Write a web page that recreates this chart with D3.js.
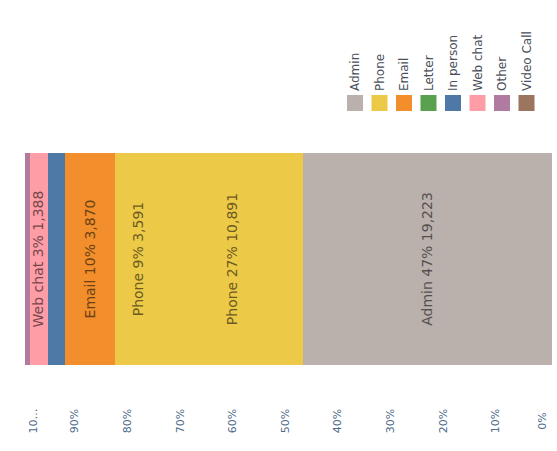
<!DOCTYPE html>
<html>
<head>
<meta charset="utf-8">
<script src="https://cdn.jsdelivr.net/npm/d3@7"></script>
<style>
  html, body { margin: 0; padding: 0; background: #fff; }
  svg { display: block; font-family: "DejaVu Sans", sans-serif; }
</style>
</head>
<body>
<svg id="chart" width="557" height="451"></svg>
<script>
// Contact volumes by channel, stacked as shares of the total
const segments   = ["Admin", "Phone", "Phone", "Email", "In person", "Web chat", "Other"];
const channels   = ["Admin", "Phone", "Phone", "Email", "In person", "Web chat", "Other"];
const values     = [19223, 10891, 3591, 3870, 1366, 1388, 321];
const labelled   = [true, true, true, true, false, true, false];

// Legend entries and their colours
const legendNames  = ["Admin", "Phone", "Email", "Letter", "In person", "Web chat", "Other", "Video Call"];
const legendColors = ["#bab0ac", "#edc948", "#f28e2b", "#59a14f", "#4e79a7", "#ff9da7", "#b07aa1", "#9c755f"];

// Share axis ticks
const tickValues = [0, 0.1, 0.2, 0.3, 0.4, 0.5, 0.6, 0.7, 0.8, 0.9, 1];
const tickLabels = ["0%", "10%", "20%", "30%", "40%", "50%", "60%", "70%", "80%", "90%", "10…"];

const svg = d3.select("#chart");
const total = d3.sum(values);

const color = d3.scaleOrdinal().domain(legendNames).range(legendColors);

// Shares run from 0% on the right to 100% on the left
const x = d3.scaleLinear().domain([0, 1]).range([551, 25]);
const barTop = 153, barBottom = 365;

// Cumulative stacking of the segments
const rows = segments.map((s, i) => ({ name: s, channel: channels[i], value: values[i], label: labelled[i] }));
let acc = 0;
rows.forEach(r => { r.s0 = acc / total; acc += r.value; r.s1 = acc / total; });

const bar = svg.append("g");
bar.selectAll("rect")
  .data(rows)
  .join("rect")
  .attr("shape-rendering", "crispEdges")
  .attr("x", d => x(d.s1))
  .attr("width", d => x(d.s0) - x(d.s1) + 0.5)
  .attr("y", barTop)
  .attr("height", barBottom - barTop)
  .attr("fill", d => color(d.channel));

const fmt = d3.format(",");
const midY = (barTop + barBottom) / 2;
bar.selectAll("text")
  .data(rows.filter(d => d.label))
  .join("text")
  .attr("transform", d => `translate(${(x(d.s0) + x(d.s1)) / 2},${midY}) rotate(-90)`)
  .attr("text-anchor", "middle")
  .attr("dy", "0.35em")
  .attr("font-size", 14)
  .attr("fill", d => d3.color(color(d.channel)).darker(2.2))
  .text(d => `${d.name}  ${Math.round(d.value / total * 100)}% ${fmt(d.value)}`);

// Axis along the bottom, labels turned upright
const axis = d3.axisBottom(x)
  .tickValues(tickValues)
  .tickFormat((d, i) => tickLabels[i])
  .tickSize(0);

const ag = svg.append("g").call(axis);
ag.select(".domain").remove();
ag.selectAll(".tick").attr("transform", null);
ag.selectAll(".tick text")
  .attr("x", null).attr("y", null).attr("dy", "0.35em")
  .attr("font-size", 11)
  .attr("font-family", "DejaVu Sans, sans-serif")
  .attr("fill", "#4f6b8a")
  .attr("text-anchor", "middle")
  .attr("transform", d => {
    let px = x(d) - 3;
    if (d === 1) px = x(d) + 8;      // keep the end labels inside the plot
    if (d === 0) px = x(d) - 9;
    return `translate(${px},421) rotate(-90)`;
  });

// Legend: swatches with labels reading upward
const lg = svg.append("g");
const step = 24.5, lx0 = 347, swY = 95, sw = 16;
const item = lg.selectAll("g")
  .data(legendNames)
  .join("g")
  .attr("transform", (d, i) => `translate(${lx0 + i * step},0)`);
item.append("rect")
  .attr("x", 0).attr("y", swY)
  .attr("width", sw).attr("height", sw)
  .attr("fill", d => color(d));
item.append("text")
  .attr("transform", `translate(${sw / 2},${swY - 4}) rotate(-90)`)
  .attr("dy", "0.35em")
  .attr("font-size", 12)
  .attr("fill", "#4a4f5a")
  .text(d => d);
</script>
</body>
</html>
